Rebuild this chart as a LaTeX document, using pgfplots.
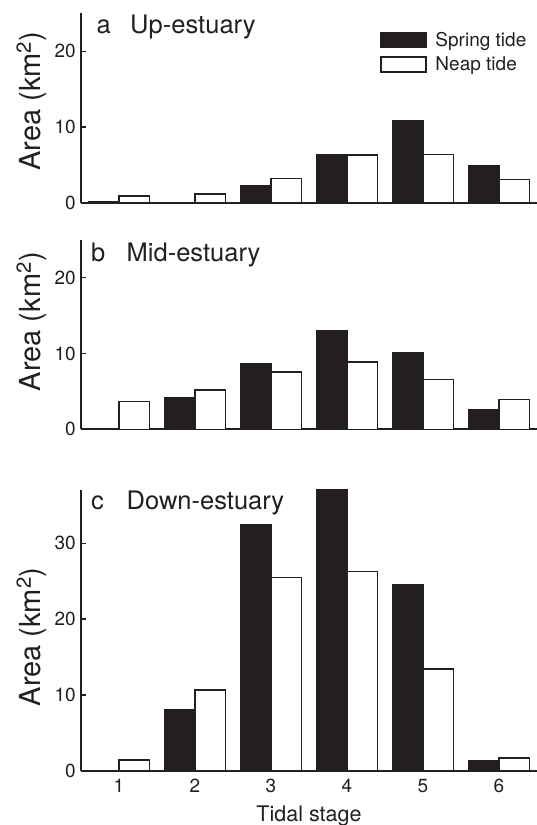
\documentclass[border=0pt]{standalone}
\usepackage{fontspec}
\setmainfont{TeX Gyre Heros}
\usepackage{pgfplots}
\pgfplotsset{compat=1.18}
\definecolor{ink}{HTML}{231F20}
\pgfplotsset{
  panel/.style={
    scale only axis, width=456pt,
    xmin=0.5, xmax=6.5, ymin=0,
    axis x line=bottom, axis y line=left,
    axis line style={-, line width=2pt, color=ink},
    xtick={1,2,3,4,5,6},
    major x tick style={draw=none},
    major y tick style={line width=1.4pt, color=ink},
    tick align=inside, major tick length=4.5pt,
    /pgf/number format/assume math mode=true,
    tick label style={font=\fontsize{19}{22}\selectfont, text=ink},
    yticklabel style={inner xsep=5pt},
    xticklabel style={inner ysep=8.5pt},
    label style={font=\fontsize{29}{32}\selectfont, text=ink},
    ylabel={Area (km\textsuperscript{2})},
    clip=false,
  },
  spring/.style={ybar, bar width=30.4pt, bar shift=-15.2pt, fill=ink, draw=ink, line width=1.5pt},
  neap/.style={ybar, bar width=30.4pt, bar shift=15.2pt, fill=white, draw=ink, line width=1.5pt},
}
\begin{document}
\begin{tikzpicture}
\useasboundingbox (0,0) rectangle (536pt,825pt);
% ---------- a ----------
\begin{axis}[panel, at={(81pt,622pt)}, anchor=south west, height=189.5pt,
  ymax=25, ytick={0,10,20}, xticklabels={},
  ylabel style={at={(axis description cs:-0.0899,0.538)}, anchor=base},
  legend image code/.code={\draw[#1] (0pt,-7.5pt) rectangle (45pt,7.5pt);},
  legend style={draw=none, fill=none, inner sep=0pt, outer sep=0pt,
    at={(axis description cs:0.6557,0.9026)}, anchor=north west,
    row sep=8pt, font=\fontsize{19}{22}\selectfont, text=ink,
    nodes={inner sep=0pt},
    /tikz/every odd column/.append style={column sep=9pt}},
  legend cell align=left]
\addplot[spring] coordinates {(1,0.2) (2,0) (3,2.3) (4,6.4) (5,10.8) (6,4.9)};
\addplot[neap] coordinates {(1,0.95) (2,1.2) (3,3.2) (4,6.3) (5,6.4) (6,3.1)};
\legend{Spring tide, Neap tide}
\end{axis}
% ---------- b ----------
\begin{axis}[panel, at={(81pt,395.7pt)}, anchor=south west, height=189.5pt,
  ymax=25, ytick={0,10,20}, xticklabels={},
  ylabel style={at={(axis description cs:-0.0899,0.568)}, anchor=base}]
\addplot[spring] coordinates {(1,0) (2,4.1) (3,8.6) (4,13.0) (5,10.1) (6,2.55)};
\addplot[neap] coordinates {(1,3.65) (2,5.2) (3,7.55) (4,8.9) (5,6.55) (6,3.9)};
\end{axis}
% ---------- c ----------
\begin{axis}[panel, at={(81pt,54.3pt)}, anchor=south west, height=280.5pt,
  ymax=37, ytick={0,10,20,30},
  xlabel={Tidal stage},
  xlabel style={at={(axis description cs:0.5,-0.1818)}, anchor=base, font=\fontsize{21.5}{24}\selectfont},
  ylabel style={at={(axis description cs:-0.0899,0.4775)}, anchor=base}]
\addplot[spring] coordinates {(1,0) (2,8.1) (3,32.4) (4,37) (5,24.5) (6,1.25)};
\addplot[neap] coordinates {(1,1.4) (2,10.65) (3,25.5) (4,26.3) (5,13.4) (6,1.65)};
\end{axis}
% ---------- panel titles ----------
\begin{scope}[every node/.style={anchor=base west, inner sep=0pt, text=ink, font=\fontsize{25.5}{28}\selectfont}]
\node at (96.5pt,791.7pt) {a};
\node at (130pt,791.7pt) {Up-estuary};
\node at (91pt,563.3pt) {b};
\node at (126.5pt,563.3pt) {Mid-estuary};
\node at (91pt,315.7pt) {c};
\node at (126.5pt,315.7pt) {Down-estuary};
\end{scope}
\end{tikzpicture}
\end{document}
